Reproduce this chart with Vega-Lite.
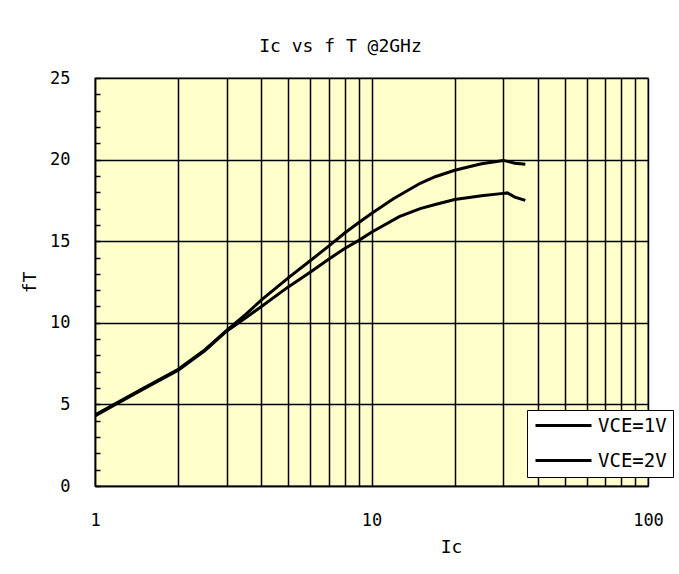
{
  "$schema": "https://vega.github.io/schema/vega-lite/v6.json",
  "autosize": {"type": "none"},
  "width": 553,
  "height": 408,
  "padding": {"left": 95, "top": 78, "right": 31, "bottom": 88},
  "background": "white",
  "title": {
    "text": "Ic vs  f T @2GHz",
    "font": "DejaVu Sans Mono",
    "fontSize": 18,
    "fontWeight": "normal",
    "color": "#000",
    "offset": 13,
    "dx": -31,
    "anchor": "middle"
  },
  "config": {
    "view": {"fill": "#FFFFCC", "stroke": "#808080", "strokeWidth": 1.5},
    "axis": {
      "labelFont": "DejaVu Sans Mono",
      "labelFontSize": 17,
      "labelColor": "#000",
      "titleFont": "DejaVu Sans Mono",
      "titleFontSize": 18,
      "titleFontWeight": "normal",
      "titleColor": "#000",
      "domainColor": "#000",
      "domainWidth": 1.5,
      "gridColor": "#000",
      "gridWidth": 1.5,
      "gridOpacity": 1,
      "tickColor": "#000"
    }
  },
  "data": {
    "values": [
      {"Ic": 1, "fT": 4.35, "series": "VCE=2V"},
      {"Ic": 1.2, "fT": 5.1, "series": "VCE=2V"},
      {"Ic": 1.5, "fT": 6.0, "series": "VCE=2V"},
      {"Ic": 2, "fT": 7.15, "series": "VCE=2V"},
      {"Ic": 2.5, "fT": 8.35, "series": "VCE=2V"},
      {"Ic": 3, "fT": 9.55, "series": "VCE=2V"},
      {"Ic": 3.5, "fT": 10.5, "series": "VCE=2V"},
      {"Ic": 4, "fT": 11.4, "series": "VCE=2V"},
      {"Ic": 5, "fT": 12.75, "series": "VCE=2V"},
      {"Ic": 6, "fT": 13.8, "series": "VCE=2V"},
      {"Ic": 7, "fT": 14.7, "series": "VCE=2V"},
      {"Ic": 8, "fT": 15.5, "series": "VCE=2V"},
      {"Ic": 9, "fT": 16.15, "series": "VCE=2V"},
      {"Ic": 10, "fT": 16.7, "series": "VCE=2V"},
      {"Ic": 12, "fT": 17.6, "series": "VCE=2V"},
      {"Ic": 15, "fT": 18.55, "series": "VCE=2V"},
      {"Ic": 17, "fT": 18.95, "series": "VCE=2V"},
      {"Ic": 20, "fT": 19.35, "series": "VCE=2V"},
      {"Ic": 25, "fT": 19.75, "series": "VCE=2V"},
      {"Ic": 30, "fT": 19.95, "series": "VCE=2V"},
      {"Ic": 33, "fT": 19.78, "series": "VCE=2V"},
      {"Ic": 36, "fT": 19.72, "series": "VCE=2V"},
      {"Ic": 1, "fT": 4.3, "series": "VCE=1V"},
      {"Ic": 1.2, "fT": 5.05, "series": "VCE=1V"},
      {"Ic": 1.5, "fT": 5.95, "series": "VCE=1V"},
      {"Ic": 2, "fT": 7.1, "series": "VCE=1V"},
      {"Ic": 2.5, "fT": 8.3, "series": "VCE=1V"},
      {"Ic": 3, "fT": 9.5, "series": "VCE=1V"},
      {"Ic": 3.5, "fT": 10.3, "series": "VCE=1V"},
      {"Ic": 4, "fT": 11.0, "series": "VCE=1V"},
      {"Ic": 5, "fT": 12.2, "series": "VCE=1V"},
      {"Ic": 6, "fT": 13.1, "series": "VCE=1V"},
      {"Ic": 7, "fT": 13.9, "series": "VCE=1V"},
      {"Ic": 8, "fT": 14.55, "series": "VCE=1V"},
      {"Ic": 9, "fT": 15.05, "series": "VCE=1V"},
      {"Ic": 10, "fT": 15.55, "series": "VCE=1V"},
      {"Ic": 12.6, "fT": 16.5, "series": "VCE=1V"},
      {"Ic": 15, "fT": 17.0, "series": "VCE=1V"},
      {"Ic": 17, "fT": 17.25, "series": "VCE=1V"},
      {"Ic": 20, "fT": 17.55, "series": "VCE=1V"},
      {"Ic": 25, "fT": 17.78, "series": "VCE=1V"},
      {"Ic": 30, "fT": 17.93, "series": "VCE=1V"},
      {"Ic": 31, "fT": 17.96, "series": "VCE=1V"},
      {"Ic": 33, "fT": 17.7, "series": "VCE=1V"},
      {"Ic": 36, "fT": 17.5, "series": "VCE=1V"}
    ]
  },
  "mark": {"type": "line", "strokeWidth": 3, "clip": true},
  "encoding": {
    "x": {
      "field": "Ic",
      "type": "quantitative",
      "scale": {"type": "log", "domain": [1, 100], "nice": false},
      "axis": {
        "title": "Ic",
        "titleX": 356,
        "titlePadding": 10,
        "values": [1,2,3,4,5,6,7,8,9,10,20,30,40,50,60,70,80,90,100],
        "format": "d",
        "labelExpr": "datum.value == 1 || datum.value == 10 || datum.value == 100 ? datum.label : ''",
        "labelFlush": false,
        "labelOverlap": false,
        "ticks": false,
        "labelPadding": 26,
        "grid": true
      }
    },
    "y": {
      "field": "fT",
      "type": "quantitative",
      "scale": {"domain": [0, 25], "nice": false},
      "axis": {
        "title": "fT",
        "titlePadding": 10,
        "values": [0,1,2,3,4,5,6,7,8,9,10,11,12,13,14,15,16,17,18,19,20,21,22,23,24,25],
        "labelExpr": "datum.value % 5 == 0 ? datum.label : ''",
        "labelOverlap": false,
        "labelFlush": false,
        "tickSize": -5,
        "tickWidth": 1.5,
        "labelPadding": 30,
        "grid": true,
        "gridOpacity": {"condition": {"test": "datum.value % 5 == 0", "value": 1}, "value": 0}
      }
    },
    "color": {
      "field": "series",
      "type": "nominal",
      "scale": {"domain": ["VCE=1V", "VCE=2V"], "range": ["#000000", "#000000"]},
      "legend": {
        "orient": "none",
        "legendX": 432,
        "legendY": 332,
        "title": null,
        "symbolType": "M-4,0H4",
        "symbolSize": 196,
        "symbolOffset": 21,
        "symbolStrokeWidth": 3,
        "symbolStrokeColor": "#000",
        "labelFont": "DejaVu Sans Mono",
        "labelFontSize": 19,
        "labelColor": "#000",
        "labelOffset": 25,
        "fillColor": "white",
        "strokeColor": "#000",
        "padding": 6,
        "rowPadding": 15
      }
    }
  }
}
